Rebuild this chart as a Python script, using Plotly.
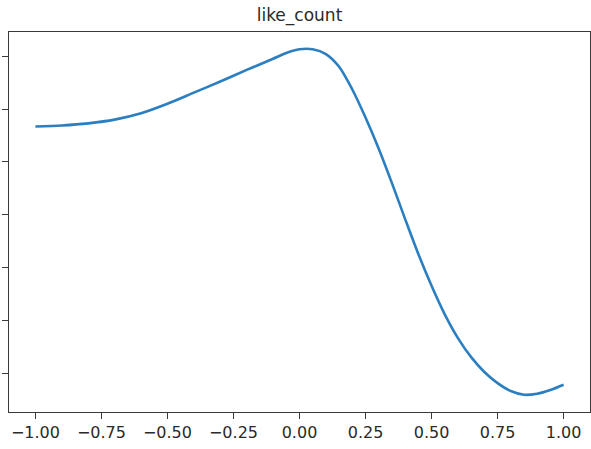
import plotly.graph_objects as go

# Sampled curve for like_count
x_vals = [-1.0, -0.9, -0.8, -0.7, -0.6, -0.5, -0.4, -0.3, -0.2, -0.1,
          -0.05, 0.0, 0.05, 0.1, 0.15, 0.2, 0.25, 0.3, 0.35, 0.4, 0.45,
          0.5, 0.55, 0.6, 0.65, 0.7, 0.75, 0.8, 0.85, 0.9, 0.95, 1.0]
y_vals = [4.67, 4.69, 4.73, 4.80, 4.92, 5.10, 5.31, 5.52, 5.74, 5.95,
          6.06, 6.13, 6.13, 6.04, 5.80, 5.37, 4.84, 4.25, 3.60, 2.92, 2.26,
          1.66, 1.12, 0.67, 0.31, 0.03, -0.18, -0.33, -0.40, -0.38, -0.31, -0.21]

x_ticks = [-1.0, -0.75, -0.5, -0.25, 0.0, 0.25, 0.5, 0.75, 1.0]
x_tick_labels = ["\u22121.00", "\u22120.75", "\u22120.50", "\u22120.25",
                 "0.00", "0.25", "0.50", "0.75", "1.00"]
y_ticks = [0, 1, 2, 3, 4, 5, 6]

# 5% padding around the data, like matplotlib's default margins
x_pad = 0.05 * (max(x_vals) - min(x_vals))
y_pad = 0.05 * (max(y_vals) - min(y_vals))

FONT = "DejaVu Sans"
AX_COLOR = "#3a3a3a"
TXT_COLOR = "#2a2a2a"

fig = go.Figure()
fig.add_trace(go.Scatter(
    x=x_vals, y=y_vals, mode="lines",
    line=dict(color="#2b7fc0", width=2.6, shape="spline", smoothing=0.8),
    hoverinfo="skip", showlegend=False,
))

fig.update_layout(
    width=591, height=449,
    margin=dict(l=9, r=1, t=32, b=37),
    paper_bgcolor="white", plot_bgcolor="white",
    font=dict(family=FONT, size=16, color=TXT_COLOR),
    title=dict(text="like_count", x=0.5, xref="paper", xanchor="center",
               y=1 - 15 / 449, yref="container", yanchor="middle",
               font=dict(family=FONT, size=17, color=TXT_COLOR)),
)

fig.update_xaxes(
    range=[min(x_vals) - x_pad, max(x_vals) + x_pad],
    tickmode="array", tickvals=x_ticks, ticktext=x_tick_labels,
    ticks="outside", ticklen=6, tickwidth=1.3, tickcolor=AX_COLOR,
    showline=True, linecolor=AX_COLOR, linewidth=1.4, mirror=True,
    showgrid=False, zeroline=False,
    tickfont=dict(family=FONT, size=16, color=TXT_COLOR),
)
fig.update_yaxes(
    range=[min(y_vals) - y_pad, max(y_vals) + y_pad],
    tickmode="array", tickvals=y_ticks, showticklabels=False,
    ticks="outside", ticklen=6, tickwidth=1.3, tickcolor=AX_COLOR,
    showline=True, linecolor=AX_COLOR, linewidth=1.4, mirror=True,
    showgrid=False, zeroline=False,
)

fig.write_html("out.html")
